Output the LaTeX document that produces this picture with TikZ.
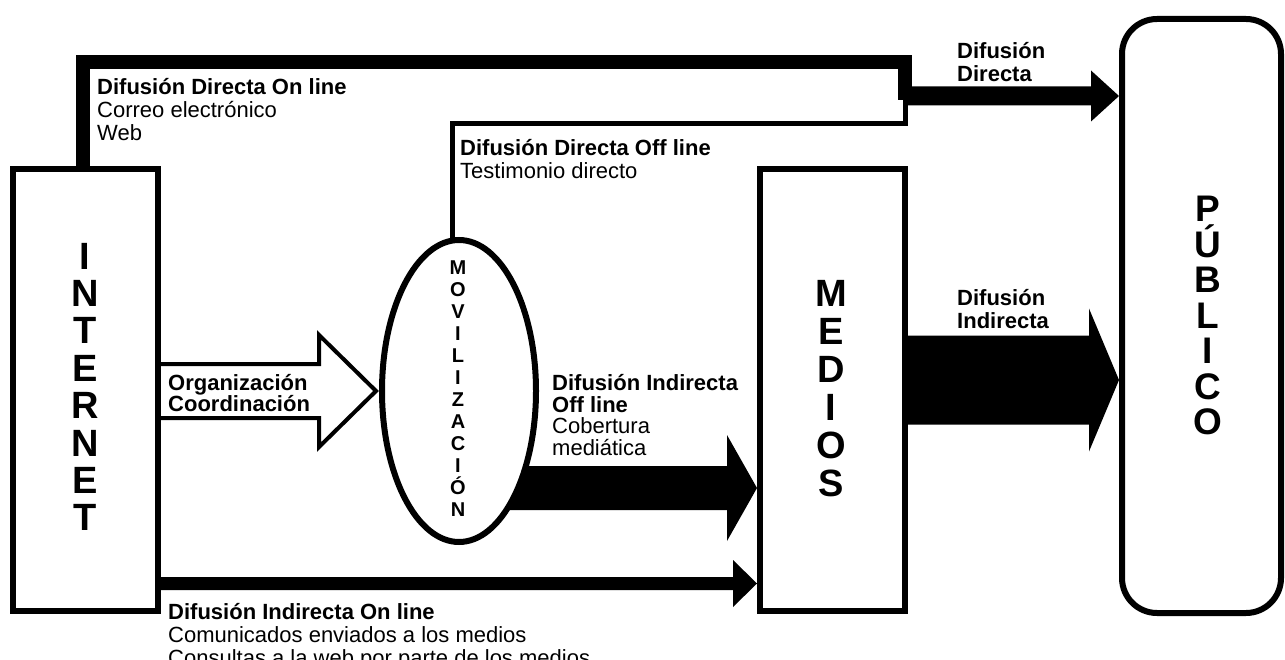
\documentclass[tikz,border=0pt]{standalone}
\usepackage{fontspec}
\setmainfont{Liberation Sans}
\usetikzlibrary{shapes.geometric,backgrounds,calc}
\newcommand\BlockArrow[5]{%
  \fill let \p1=#1, \p2=#2 in
    (\x1,\y1+#3) -- (\x2-#5,\y1+#3) -- (\x2-#5,\y1+#4) -- (\x2,\y1)
    -- (\x2-#5,\y1-#4) -- (\x2-#5,\y1-#3) -- (\x1,\y1-#3) -- cycle;}
\begin{document}
\begin{tikzpicture}[x=1pt,y=-1pt,line join=miter,
  box/.style={draw,line width=6pt,fill=white,inner sep=0pt},
  txt/.style={anchor=north west,inner sep=0pt,align=left,font=\fontsize{22}{23}\selectfont},
  bigtxt/.style={align=center,inner sep=0pt,font=\bfseries\fontsize{38}{37.4}\selectfont},
  bigtxtm/.style={align=center,inner sep=0pt,font=\bfseries\fontsize{38}{38}\selectfont},
  bigtxtb/.style={align=center,inner sep=0pt,font=\bfseries\fontsize{37}{35.5}\selectfont},
  midtxt/.style={align=center,inner sep=0pt,font=\bfseries\fontsize{20}{22}\selectfont},
  thickline/.style={line width=14pt},
  thinline/.style={line width=5pt},
  hollow/.style={draw,line width=4pt}]
\useasboundingbox (0,0) rectangle (1285,660);

% boxes
\node[box,minimum width=145pt,minimum height=442pt] (internet) at (85.5,390) {};
\node[box,minimum width=145pt,minimum height=442pt] (medios) at (832.5,390) {};
\node[box,rounded corners=35pt,minimum width=159pt,minimum height=594pt] (publico) at (1201.5,316) {};
\node[box,ellipse,minimum width=154pt,minimum height=302pt] (mov) at (459,391) {};

% big labels
\node[bigtxt] (internetlbl) at (85,387) {I\\N\\T\\E\\R\\N\\E\\T};
\node[bigtxtm] (medioslbl) at (831,388.5) {M\\E\\D\\I\\O\\S};
\node[bigtxtb] (publicolbl) at (1208,315.5) {P\\Ú\\B\\L\\I\\C\\O};
\node[midtxt] (movlbl) at (458,388.5) {M\\O\\V\\I\\L\\I\\Z\\A\\C\\I\\Ó\\N};

% text labels
\node[txt] (t1) at (97,78.5) {\textbf{Difusión Directa On line}\\Correo electrónico\\Web};
\node[txt] (t2) at (460,139.5) {\textbf{Difusión Directa Off line}\\Testimonio directo};
\node[txt,font=\bfseries\fontsize{22}{23}\selectfont] (t3) at (957,42.5) {Difusión\\Directa};
\node[txt,font=\bfseries\fontsize{22}{23}\selectfont] (t4) at (957,289.5) {Difusión\\Indirecta};
\node[txt,font=\bfseries\fontsize{22}{21}\selectfont] (t5) at (168,374.5) {Organización\\Coordinación};
\node[txt,font=\fontsize{22}{21.5}\selectfont] (t6) at (552,374.5) {\textbf{Difusión Indirecta}\\\textbf{Off line}\\Cobertura\\mediática};
\node[txt] (t7) at (168,603.5) {\textbf{Difusión Indirecta On line}\\Comunicados enviados a los medios\\Consultas a la web por parte de los medios};

% connectors
\coordinate (jn) at (905,96);
\coordinate (bigs) at (900,380);
\coordinate (offs) at (470,488);
\coordinate (bs) at (150,583.5);
\begin{scope}[on background layer]
  \draw[thickline] ([xshift=-2.5pt]internet.center) |- (905,62) -- (905,100);
  \draw[thinline] ([xshift=-7pt]mov.center) |- (905,124) -- (jn);
  \BlockArrow{(jn)}{(publico.west)}{9.5pt}{25.5pt}{28pt}
  \BlockArrow{(bigs)}{(publico.west)}{44.5pt}{71.5pt}{30pt}
  \BlockArrow{(offs)}{(medios.west)}{22pt}{53pt}{30pt}
  \BlockArrow{(bs)}{(medios.west)}{6.5pt}{23.5pt}{24pt}
  \draw[hollow] let \p1=(internet.east), \p2=(mov.west) in
    (\x1-5pt,\y2+27pt) -- (\x2-60pt,\y2+27pt) -- (\x2-60pt,\y2+56pt) -- (\x2-3pt,\y2)
    -- (\x2-60pt,\y2-56pt) -- (\x2-60pt,\y2-27pt) -- (\x1-5pt,\y2-27pt);
\end{scope}
\end{tikzpicture}
\end{document}
